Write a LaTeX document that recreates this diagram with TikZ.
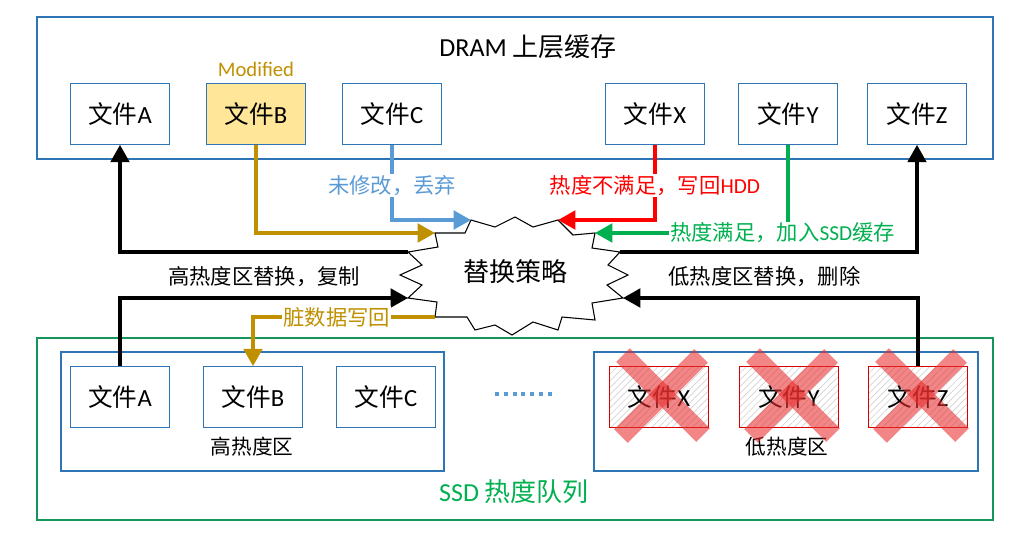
\documentclass[tikz,border=0pt]{standalone}
\usepackage{fontspec}
\setmainfont{Noto Sans CJK SC}
\newfontfamily\lat{Carlito}
\usepackage{tikz}
\usetikzlibrary{positioning, arrows.meta, patterns.meta}
\definecolor{CacheBlue}{RGB}{46,117,182}
\definecolor{DropBlue}{RGB}{91,155,213}
\definecolor{DirtyGold}{RGB}{191,144,0}
\definecolor{ModYellow}{RGB}{255,230,153}
\definecolor{HotGreen}{RGB}{0,176,80}
\definecolor{QueueGreen}{RGB}{20,150,90}
\definecolor{EvictRed}{RGB}{255,0,0}
\definecolor{CrossRed}{RGB}{232,45,45}

\newcommand{\fname}[1]{文件{\lat #1}}

\begin{document}
\begin{tikzpicture}[
  x=0.75pt, y=-0.75pt,
  every node/.style={font=\fontsize{16}{19}\selectfont},
  filebox/.style={draw=CacheBlue, line width=0.8pt, fill=white, minimum width=74pt, minimum height=45.5pt, inner sep=0pt, font=\fontsize{18.5}{22}\selectfont},
  modbox/.style={filebox, fill=ModYellow},
  deadbox/.style={filebox, fill=none, draw=EvictRed!85!black, pattern={Lines[angle=45, distance=3.6pt, line width=0.5pt]}, pattern color=gray!35},
  frame/.style={draw=CacheBlue, line width=0.8pt},
  title/.style={font=\fontsize{19.5}{23}\selectfont},
  zone/.style={font=\fontsize{15.5}{18}\selectfont},
  flow/.style={line width=2.3pt, -{Triangle[length=13pt, width=14pt]}},
  tag/.style={fill=white, inner sep=1pt},
  xmark/.style={line width=14.5pt, CrossRed, opacity=0.58}
]
\useasboundingbox (0,0) rectangle (1021,536);

% DRAM layer
\draw[frame] (37,17) rectangle (993,159);
\node[title] (dramtitle) at (528,47) {{\lat DRAM} 上层缓存};
\node[filebox] (ta) at (120,114) {\fname{A}};
\node[modbox] (tb) at (256,114) {\fname{B}};
\node[above=1pt of tb, DirtyGold, font=\lat\fontsize{15.5}{18}\selectfont] (modtag) {Modified};
\node[filebox] (tc) at (392,114) {\fname{C}};
\node[filebox] (tx) at (655,114) {\fname{X}};
\node[filebox] (ty) at (788,114) {\fname{Y}};
\node[filebox] (tz) at (917,114) {\fname{Z}};

% SSD queue
\draw[draw=QueueGreen, line width=0.8pt] (37,338) rectangle (993,520);
\node[title, HotGreen] (ssdtitle) at (514,492) {{\lat SSD} 热度队列};
\draw[frame] (61,352) rectangle (444,471);
\draw[frame] (594,352) rectangle (978,471);
\node[zone] (hotzone) at (252,447) {高热度区};
\node[zone] (coldzone) at (787,447) {低热度区};
\node[filebox] (ba) at (120,397) {\fname{A}};
\node[filebox] (bb) at (253,397) {\fname{B}};
\node[filebox] (bc) at (386,397) {\fname{C}};
\draw[DropBlue, line width=3pt, dash pattern=on 3pt off 3.6pt] (495,394) -- (553,394);
\node[deadbox] (bx) at (659,397) {\fname{X}};
\node[deadbox] (by) at (789,397) {\fname{Y}};
\node[deadbox] (bz) at (918,397) {\fname{Z}};

% eviction marks
\foreach \f in {bx,by,bz} {
  \draw[xmark] ([shift={(-36,-42)}]\f.center) -- ([shift={(44,38)}]\f.center);
  \draw[xmark] ([shift={(42,-41)}]\f.center) -- ([shift={(-38,39)}]\f.center);
}

% replacement policy (jagged outline)
\draw[line width=0.8pt, fill=white] (471,220) coordinate (cblue) -- (495,227) -- (515,217) -- (533,227)
  -- (558,220) coordinate (cred) -- (573,235) -- (595,233) coordinate (cgreen) -- (592,248)
  -- (620,252) coordinate (czout) -- (608,265) -- (628,275) -- (607,285)
  -- (623,298) coordinate (czin) -- (592,303) -- (595,320) -- (562,317) -- (558,330)
  -- (533,322) -- (512,335) -- (495,325) -- (475,330) -- (467,317)
  -- (435,317) coordinate (cdirty) -- (437,302) -- (408,298) coordinate (cain)
  -- (422,285) -- (400,275) -- (422,265) -- (408,252) coordinate (caout)
  -- (438,247) -- (435,233) coordinate (cgold) -- (465,233) -- cycle;
\node[title] (policy) at (515,272) {替换策略};

% DRAM -> policy
\draw[flow, DropBlue] (tc.south) |- node[tag, pos=0.27] {未修改，丢弃} (cblue);
\draw[flow, DirtyGold] (tb.south) |- (cgold);
\draw[flow, EvictRed] (tx.south) |- node[tag, pos=0.27] {热度不满足，写回{\lat HDD}} (cred);
\draw[flow, HotGreen] (ty.south) |- node[tag, pos=0.5, xshift=-4pt] {热度满足，加入{\lat SSD}缓存} (cgreen);

% policy <-> SSD
\draw[flow] (caout) -| (ta.south);
\draw[flow] (ba.north) |- node[above=4pt, pos=0.75] {高热度区替换，复制} (cain);
\draw[flow, DirtyGold] (cdirty) -| node[tag, pos=0.27] {脏数据写回} (bb.north);
\draw[flow] (czout) -| (tz.south);
\draw[flow] (bz.north) |- node[above=4pt, pos=0.76] {低热度区替换，删除} (czin);

\end{tikzpicture}
\end{document}
